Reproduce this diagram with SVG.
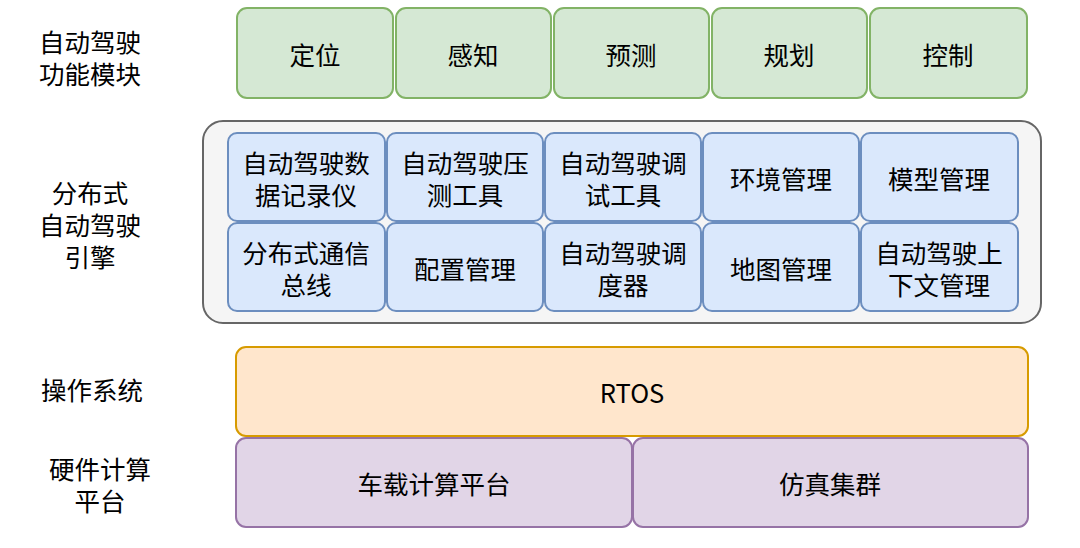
<svg xmlns="http://www.w3.org/2000/svg" width="1080" height="548" viewBox="0 0 1080 548">
<style>
text{font-family:"Noto Sans CJK SC","Liberation Sans",sans-serif;font-size:25.5px;fill:#000;text-anchor:middle;dominant-baseline:central}
.g{fill:#d5e8d4;stroke:#82b366;stroke-width:2}
.b{fill:#dae8fc;stroke:#6c8ebf;stroke-width:2}
.o{fill:#ffe6cc;stroke:#d79b00;stroke-width:2}
.p{fill:#e1d5e7;stroke:#9673a6;stroke-width:2}
.c{fill:#f5f5f5;stroke:#666;stroke-width:2}
</style>
<rect width="1080" height="548" fill="#fff"/>
<g id="labels">
<text x="90" y="40">自动驾驶</text><text x="90" y="72">功能模块</text>
<text x="90" y="191">分布式</text><text x="90" y="223">自动驾驶</text><text x="90" y="255">引擎</text>
<text x="92" y="388">操作系统</text>
<text x="100" y="467">硬件计算</text><text x="100" y="499">平台</text>
</g>
<g id="n1"><rect class="g" x="237" y="8" width="156" height="90" rx="10"/><text x="315" y="53">定位</text></g>
<g id="n2"><rect class="g" x="396" y="8" width="155" height="90" rx="10"/><text x="473" y="53">感知</text></g>
<g id="n3"><rect class="g" x="554" y="8" width="155" height="90" rx="10"/><text x="631" y="53">预测</text></g>
<g id="n4"><rect class="g" x="712" y="8" width="155" height="90" rx="10"/><text x="789" y="53">规划</text></g>
<g id="n5"><rect class="g" x="870" y="8" width="157" height="90" rx="10"/><text x="948" y="53">控制</text></g>
<g id="engine"><rect class="c" x="203" y="121" width="838" height="202" rx="20"/></g>
<g id="e1"><rect class="b" x="228" y="133" width="157" height="88" rx="9"/><text x="306" y="161">自动驾驶数</text><text x="306" y="193">据记录仪</text></g>
<g id="e2"><rect class="b" x="387" y="133" width="156" height="88" rx="9"/><text x="465" y="161">自动驾驶压</text><text x="465" y="193">测工具</text></g>
<g id="e3"><rect class="b" x="545" y="133" width="156" height="88" rx="9"/><text x="623" y="161">自动驾驶调</text><text x="623" y="193">试工具</text></g>
<g id="e4"><rect class="b" x="703" y="133" width="156" height="88" rx="9"/><text x="781" y="177">环境管理</text></g>
<g id="e5"><rect class="b" x="861" y="133" width="157" height="88" rx="9"/><text x="939" y="177">模型管理</text></g>
<g id="e6"><rect class="b" x="228" y="223" width="157" height="88" rx="9"/><text x="306" y="251">分布式通信</text><text x="306" y="283">总线</text></g>
<g id="e7"><rect class="b" x="387" y="223" width="156" height="88" rx="9"/><text x="465" y="267">配置管理</text></g>
<g id="e8"><rect class="b" x="545" y="223" width="156" height="88" rx="9"/><text x="623" y="251">自动驾驶调</text><text x="623" y="283">度器</text></g>
<g id="e9"><rect class="b" x="703" y="223" width="156" height="88" rx="9"/><text x="781" y="267">地图管理</text></g>
<g id="e10"><rect class="b" x="861" y="223" width="157" height="88" rx="9"/><text x="939" y="251">自动驾驶上</text><text x="939" y="283">下文管理</text></g>
<g id="rtos"><rect class="o" x="236" y="347" width="792" height="89" rx="10"/><text x="632" y="391">RTOS</text></g>
<g id="h1"><rect class="p" x="236" y="438" width="396" height="89" rx="10"/><text x="434" y="482">车载计算平台</text></g>
<g id="h2"><rect class="p" x="633" y="438" width="395" height="89" rx="10"/><text x="830" y="482">仿真集群</text></g>
<g id="connectors"/>
</svg>
